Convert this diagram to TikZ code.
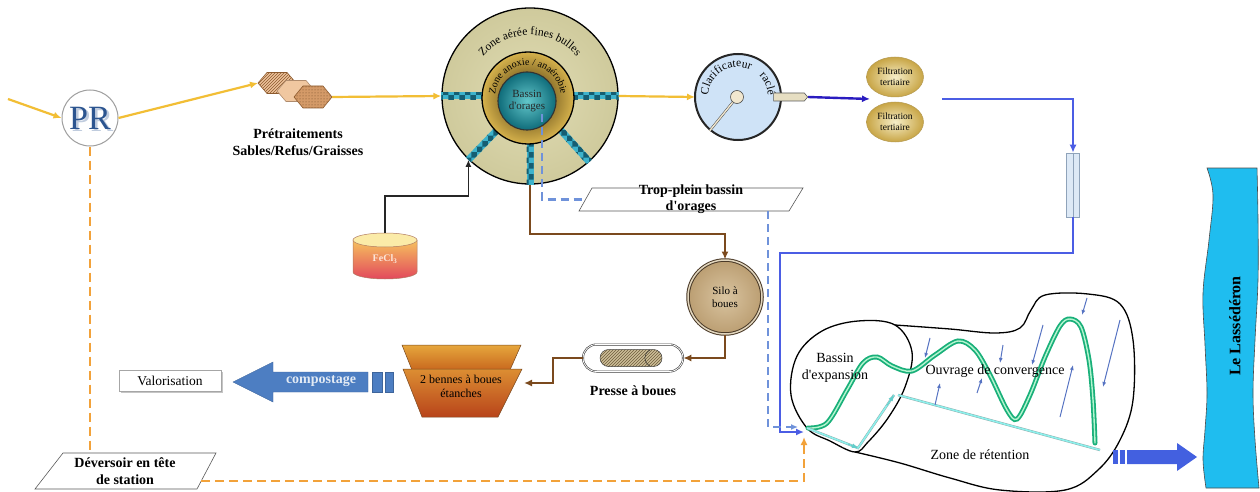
\documentclass[tikz,border=0pt]{standalone}
\usepackage{fontspec}
\setmainfont{Liberation Serif}[Ligatures=TeXOff]
\usetikzlibrary{arrows.meta,shapes.geometric,shapes.symbols,shapes.misc,decorations.text,patterns,calc,shadows}

\definecolor{flowyellow}{HTML}{F2BE35}
\definecolor{flowbrown}{HTML}{7B4A1E}
\definecolor{flowblue}{HTML}{4B5DE4}
\definecolor{flowviolet}{HTML}{2A1CC0}
\definecolor{dashblue}{HTML}{6F92DA}
\definecolor{dashorange}{HTML}{F2A23A}
\definecolor{aerin}{HTML}{E0DCB4}
\definecolor{aerout}{HTML}{CFCA9C}
\definecolor{anoxgold}{HTML}{D6B24C}
\definecolor{anoxdark}{HTML}{3A2806}
\definecolor{stormteal}{HTML}{0F6C7A}
\definecolor{stormlight}{HTML}{62C6CA}
\definecolor{barteal}{HTML}{3DB3CC}
\definecolor{bardark}{HTML}{155E72}
\definecolor{clarfill}{HTML}{CFE3F7}
\definecolor{hubfill}{HTML}{F1E7CF}
\definecolor{tubefill}{HTML}{E6DEC2}
\definecolor{siloin}{HTML}{D9C4A0}
\definecolor{siloout}{HTML}{BB9E72}
\definecolor{siloedge}{HTML}{4A3A28}
\definecolor{silorim}{HTML}{E2D6BE}
\definecolor{riverblue}{HTML}{1FBDEF}
\definecolor{arrowsteel}{HTML}{4D7EC2}
\definecolor{outblue}{HTML}{4360E0}
\definecolor{waveg}{HTML}{19B07A}
\definecolor{wavel}{HTML}{B5F5D0}
\definecolor{cyanline}{HTML}{8DF0EC}
\definecolor{cyanedge}{HTML}{8AA8A8}
\definecolor{smallarrow}{HTML}{5673C2}
\definecolor{prblue}{HTML}{2C5590}
\definecolor{filtlight}{HTML}{F6EEC8}
\definecolor{filtgold}{HTML}{C8A545}
\definecolor{filtedge}{HTML}{B59A52}
\definecolor{peach}{HTML}{EDC29A}
\definecolor{peachlight}{HTML}{F0C7A0}
\definecolor{peachdark}{HTML}{8C5A2E}
\definecolor{hexdot}{HTML}{D49A68}
\definecolor{pipefill}{HTML}{DDE9F6}
\definecolor{pipeedge}{HTML}{8FA3BA}
\definecolor{feclcap}{HTML}{FBEBA8}
\definecolor{fecltop}{HTML}{F6C25E}
\definecolor{feclbot}{HTML}{E2485C}
\definecolor{ecledge}{HTML}{B07A60}
\definecolor{fecltext}{HTML}{FCE6DA}
\definecolor{pressefill}{HTML}{CDBF98}
\definecolor{pressehatch}{HTML}{6E5C3C}
\definecolor{bentopa}{HTML}{E6A63C}
\definecolor{bentopb}{HTML}{C8681E}
\definecolor{benbota}{HTML}{DC8E32}
\definecolor{benbotb}{HTML}{B8441A}
\definecolor{benedge}{HTML}{7A4A20}
\definecolor{compotext}{HTML}{E2EAF4}

% checkered aeration bar between two points
\newcommand\chainbar[2]{%
  \fill[barteal,postaction={pattern=checkerboard,pattern color=bardark}]
    ($(#1)!3.5pt!90:(#2)$) -- ($(#2)!3.5pt!-90:(#1)$) --
    ($(#2)!3.5pt!90:(#1)$) -- ($(#1)!3.5pt!-90:(#2)$) -- cycle;}

\begin{document}
\begin{tikzpicture}[x=1pt,y=-1pt,
  pipeY/.style={draw=flowyellow,line width=2.2pt,-{Latex[length=8pt,width=7pt]}},
  pipeBr/.style={draw=flowbrown,line width=2.2pt,-{Latex[length=8pt,width=7pt]}},
  pipeB/.style={draw=flowblue,line width=2.2pt,-{Latex[length=8pt,width=7pt]}},
  pipeV/.style={draw=flowviolet,line width=2.4pt,-{Latex[length=8pt,width=7pt]}},
  feedline/.style={draw=black!85,line width=1.8pt,-{Latex[length=7pt,width=6pt]}},
  dashB/.style={draw=dashblue,line width=2.2pt,dash pattern=on 8pt off 5pt},
  dashO/.style={draw=dashorange,line width=2.2pt,dash pattern=on 9pt off 5pt},
  lbl/.style={font=\fontsize{14}{17}\selectfont\bfseries,align=center},
  txt/.style={font=\fontsize{14}{17}\selectfont,align=center},
  smallarr/.style={draw=smallarrow,line width=1pt,-{Latex[length=5pt,width=4pt]}},
  parallelo/.style={draw=gray!70!black,line width=.6pt,fill=white},
]
\useasboundingbox (0,0) rectangle (1260,492);
\fill[white] (0,0) rectangle (1260,492);

% ---------------- pumping station
\node[circle,draw=gray!75,line width=1pt,fill=white,minimum size=56pt,inner sep=0pt] (pr) at (90,118) {};
\node[text=prblue!30,font=\fontsize{34}{34}\selectfont] (prshadow) at (92.5,120.5) {PR};
\node[text=prblue,font=\fontsize{34}{34}\selectfont] (prtext) at (90,118) {PR};
\coordinate (inflow) at (8,99);
\draw[pipeY] (inflow) -- (pr.west);

% ---------------- pretreatment hexagons
\begin{scope}[shift={(277,83)}]
  \path[draw=peachdark,line width=.6pt,preaction={fill=peach},pattern=north east lines,pattern color=peachdark]
    (-19,0) -- (-10,-10.5) -- (10,-10.5) -- (19,0) -- (10,10.5) -- (-10,10.5) -- cycle;
  \coordinate (hex1w) at (-19,0);
\end{scope}
\begin{scope}[shift={(296,91)}]
  \path[draw=peachdark!70,line width=.6pt,fill=peachlight]
    (-19,0) -- (-10,-10.5) -- (10,-10.5) -- (19,0) -- (10,10.5) -- (-10,10.5) -- cycle;
\end{scope}
\begin{scope}[shift={(313,97)}]
  \path[draw=peachdark,line width=.6pt,preaction={fill=hexdot},pattern=dots,pattern color=peachdark!80!black]
    (-19,0) -- (-10,-11) -- (10,-11) -- (19,0) -- (10,11) -- (-10,11) -- cycle;
  \coordinate (hex3e) at (19,0);
\end{scope}
\draw[pipeY] (pr.east) -- (hex1w);
\node[lbl] (pretext) at (298,142) {Prétraitements\\Sables/Refus/Graisses};

% ---------------- biological basin
\node[circle,draw=black,line width=1.3pt,inner color=aerin,outer color=aerout,minimum size=176pt,inner sep=0pt] (aer) at (530,96) {};
\chainbar{aer.180}{aer.center}
\chainbar{aer.0}{aer.center}
\chainbar{aer.226}{aer.center}
\chainbar{aer.312}{aer.center}
\chainbar{aer.270}{aer.center}
\node[circle,draw=black,line width=1.3pt,inner color=anoxdark,outer color=anoxgold,minimum size=92pt,inner sep=0pt] (anox) at (528,98) {};
\node[circle,draw=black!80,line width=1.1pt,inner color=stormlight,outer color=stormteal,minimum size=58pt,inner sep=0pt,align=center,font=\fontsize{11}{12.5}\selectfont,text=black!85] (storm) at (527,101) {Bassin\\d'orages};
\path[decorate,decoration={text along path,text align=center,text={|\fontsize{11.5}{11.5}\selectfont|Zone aérée fines bulles}}]
  ($(aer.center)+(205:61)$) arc[start angle=205,end angle=335,radius=61];
\path[decorate,decoration={text along path,text align=center,text={|\fontsize{10}{10}\selectfont|Zone anoxie / anaérobie}}]
  ($(anox.center)+(170:33)$) arc[start angle=170,end angle=370,radius=33];
\draw[pipeY] (hex3e) -- (aer.west);

% ---------------- ferric chloride tank
\shade[top color=fecltop,bottom color=feclbot,draw=ecledge,line width=.5pt]
  (353,240) -- (353,272) arc[start angle=180,end angle=0,x radius=32,y radius=7] -- (417,240) -- cycle;
\filldraw[fill=feclcap,draw=ecledge,line width=.5pt] (385,240) ellipse[x radius=32,y radius=7];
\node[font=\fontsize{10}{10}\selectfont\bfseries,text=fecltext] (fecl) at (385,259) {FeCl\textsubscript{3}};
\coordinate (feclin) at (385,233);
\draw[feedline] (feclin) -- ++(0,-37) -| (aer.226);

% ---------------- clarifier
\draw[pipeY] (aer.east) -- (695,97);
\node[circle,draw=black!85,line width=2pt,fill=clarfill,minimum size=86pt,inner sep=0pt] (clar) at (738,97) {};
\draw[draw=gray!60!black,line width=.5pt,double=hubfill,double distance=1.4pt] (737,97) -- (clar.230);
\node[circle,draw=gray!60!black,line width=.6pt,fill=hubfill,minimum size=13pt,inner sep=0pt] (hub) at (737,97) {};
\path[decorate,decoration={text along path,text align=center,text={|\fontsize{11.5}{11.5}\selectfont|Clarificateur}}]
  ($(clar.center)+(173:30)$) arc[start angle=173,end angle=305,radius=30];
\path[decorate,decoration={text along path,text align=center,text={|\fontsize{11.5}{11.5}\selectfont|raclé}}]
  ($(clar.center)+(305:30)$) arc[start angle=305,end angle=368,radius=30];
\node[signal,signal to=east,signal pointer angle=100,draw=gray!70!black,line width=.6pt,fill=tubefill,minimum width=34pt,minimum height=8pt,inner sep=0pt] (outlet) at (789,97) {};

% ---------------- tertiary filtration
\node[ellipse,draw=filtedge,line width=.5pt,inner color=filtlight,outer color=filtgold,minimum width=57pt,minimum height=40pt,inner sep=0pt,align=center,font=\fontsize{9.5}{11}\selectfont] (filt1) at (895,77) {Filtration\\tertiaire};
\node[ellipse,draw=filtedge,line width=.5pt,inner color=filtlight,outer color=filtgold,minimum width=57pt,minimum height=40pt,inner sep=0pt,align=center,font=\fontsize{9.5}{11}\selectfont] (filt2) at (895,122) {Filtration\\tertiaire};
\coordinate (filtin) at (870,99);
\coordinate (filtout) at (942,99);
\draw[pipeV] (outlet.east) -- (filtin);

% ---------------- tube and treated-water line
\node[draw=pipeedge,line width=.6pt,fill=pipefill,minimum width=13pt,minimum height=64pt,inner sep=0pt] (pipe) at (1073,185) {};
\draw[pipeedge,line width=.6pt] (pipe.north) -- (pipe.south);
\draw[pipeB] (filtout) -| (pipe.north);
\coordinate (zinS) at (804,432);
\coordinate (zinD) at (798,427);
\coordinate (zinO) at (804,437);
\draw[pipeB] (pipe.south) -- ++(0,36) -| ($(zinS)+(-24,0)$) -- (zinS);

% ---------------- storm overflow
\path[parallelo] (579,211) coordinate (tropBL) -- (592,188) -- (803,188) -- (789,211) coordinate (tropBR) -- cycle;
\coordinate (tropW) at (585.5,199.5);
\node[lbl,font=\fontsize{14}{16}\selectfont\bfseries] (trop) at (691,199) {Trop-plein bassin\\d'orages};
\coordinate (overflow) at (542,114);
\draw[dashB] (overflow) |- (tropW);
\draw[dashB,-{Latex[length=7pt,width=6pt]}] ($(tropBR)+(-21,0)$) |- (zinD);

% ---------------- sludge line
\node[circle,draw=siloedge,double=silorim,double distance=1.5pt,line width=1pt,inner color=siloin,outer color=siloout,minimum size=74pt,inner sep=0pt,align=center,font=\fontsize{11}{13}\selectfont] (silo) at (725,297) {Silo à\\boues};
\draw[pipeBr] (aer.south) -- ++(0,49) -| (silo.north);
\node[rounded rectangle,draw=gray!50!black,double=white,double distance=.8pt,line width=.6pt,fill=white,minimum width=100pt,minimum height=27pt,inner sep=0pt] (presse) at (633,358) {};
\node[rounded rectangle,draw=gray!50!black,line width=.5pt,preaction={fill=pressefill},pattern=north east lines,pattern color=pressehatch,minimum width=62pt,minimum height=17pt,inner sep=0pt] (roll) at (631,358) {};
\draw[gray!40!black,line width=.5pt] (650,350) .. controls (643,354) and (643,362) .. (650,366);
\node[lbl] (pressetext) at (633,391) {Presse à boues};
\draw[pipeBr] (silo.south) |- (presse.east);

\shade[top color=bentopa,bottom color=bentopb,draw=benedge,line width=.5pt] (402,345) -- (521,345) -- (510,370) -- (412,370) -- cycle;
\shade[top color=benbota,bottom color=benbotb,draw=benedge,line width=.5pt] (403,369) -- (522,369) -- (498,417) -- (422,417) -- cycle;
\node[font=\fontsize{12}{14}\selectfont,align=center] (bennes) at (461,386) {2 bennes à boues\\étanches};
\coordinate (bennesin) at (524,383);
\draw[pipeBr] (presse.west) -- ++(-30,0) |- (bennesin);

% compost arrow and destination
\filldraw[fill=arrowsteel,draw=arrowsteel!80!black,line width=.4pt]
  (233,382) -- (273,362) -- (273,372) -- (368,372) -- (368,392) -- (273,392) -- (273,402) -- cycle;
\filldraw[fill=arrowsteel,draw=arrowsteel!80!black,line width=.4pt] (372,372) rectangle (382,392);
\filldraw[fill=arrowsteel,draw=arrowsteel!80!black,line width=.4pt] (385,372) rectangle (393,392);
\node[font=\fontsize{14}{14}\selectfont\bfseries,text=compotext] (compo) at (321,381) {compostage};
\node[draw=gray!70,line width=.6pt,fill=white,minimum width=102pt,minimum height=21pt,inner sep=0pt,
  drop shadow={shadow xshift=1.5pt,shadow yshift=-1.5pt,opacity=.45},font=\fontsize{13.5}{14}\selectfont] (valor) at (170,381) {Valorisation};

% ---------------- head-of-works overflow
\path[parallelo] (35,489) -- (63,453) -- (216,453) coordinate (devTR) -- (197,489) coordinate (devBR) -- cycle;
\coordinate (devtop) at (125,453);
\node[lbl] (dev) at (125,471) {Déversoir en tête\\de station};
\draw[dashO] (pr.south) -- (pr.south |- devtop);
\draw[dashO,-{Latex[length=8pt,width=7pt]}] ($(devBR)!0.22!(devTR)$) -| (zinO);

% ---------------- retention area
\coordinate (ztip) at (807,428);
\draw[black,line width=1.3pt] plot[smooth cycle,tension=.6] coordinates
  {(807,428) (791,395) (797,356) (822,331) (858,321) (895,325) (912,352) (905,387) (888,418) (868,442) (855,452) (830,441)};
\draw[black,line width=1.3pt] plot[smooth,tension=.6] coordinates
  {(895,325) (950,329) (995,333) (1020,328) (1031,310) (1045,295) (1088,294) (1120,304) (1133,340) (1133,400) (1120,440) (1098,470) (1065,490) (1000,490) (950,478) (900,463) (855,452)};
\draw[waveg,line width=5pt,line cap=round,postaction={draw=wavel,line width=1.4pt}] plot[smooth,tension=.55] coordinates
  {(808,428) (827,423) (847,390) (863,363) (877,357) (892,366) (912,371) (935,355) (958,341) (975,350) (990,375) (1007,410) (1017,419) (1030,395) (1045,357) (1060,326) (1070,319) (1081,327) (1089,360) (1093,400) (1095,443)};
\coordinate (cA) at (858,448);
\coordinate (cB) at (894,395);
\coordinate (cC) at (898,395);
\coordinate (cD) at (1100,450);
\draw[cyanedge,line width=.4pt,double=cyanline,double distance=1.6pt] (ztip) -- (cA) -- (cB);
\draw[cyanedge,line width=.4pt,double=cyanline,double distance=1.6pt] (cC) -- (cD);
\draw[cyanline!70!teal,line width=.8pt,-{Latex[length=6pt,width=5pt]}] ($(ztip)!.8!(cA)$) -- (cA);
\draw[cyanline!70!teal,line width=.8pt,-{Latex[length=6pt,width=5pt]}] ($(cA)!.8!(cB)$) -- (cB);
% run-off arrows
\draw[smallarr] (930,338) -- (925,358);
\draw[smallarr] (1003,345) -- (1000,363);
\draw[smallarr] (1043,325) -- (1032,365);
\draw[smallarr] (1087,298) -- (1082,315);
\draw[smallarr] (1120,320) -- (1103,387);
\draw[smallarr] (935,405) -- (940,383);
\draw[smallarr] (977,393) -- (982,378);
\draw[smallarr] (1060,417) -- (1073,365);
\node[txt] (exptext) at (835,368) {Bassin\\d'expansion};
\node[txt] (convtext) at (995,371) {Ouvrage de convergence};
\node[txt] (rettext) at (980,455) {Zone de rétention};

% outflow to the river
\fill[outblue] (1113,450) rectangle (1118,464);
\fill[outblue] (1120,450) rectangle (1125,464);
\fill[outblue] (1127,450) -- (1177,450) -- (1177,443) -- (1197,457) -- (1177,471) -- (1177,464) -- (1127,464) -- cycle;

% ---------------- river
\filldraw[fill=riverblue,draw=black!70,line width=.6pt]
  plot[smooth,tension=.6] coordinates {(1207,168) (1213,195) (1209,240) (1203,293) (1205,345) (1207,393) (1205,430) (1203,460) (1206,488)}
  -- plot[smooth,tension=.6] coordinates {(1259,488) (1255,440) (1253,393) (1255,340) (1258,280) (1258,220) (1257,168)} -- cycle;
\node[rotate=90,font=\fontsize{16}{16}\selectfont\bfseries] (river) at (1235,326) {Le Lassédéron};
\end{tikzpicture}
\end{document}
